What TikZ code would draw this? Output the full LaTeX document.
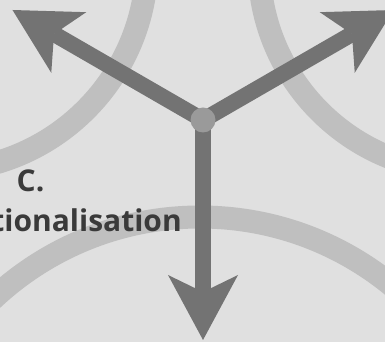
\documentclass[tikz,border=0pt]{standalone}
\usepackage{fontspec}
\setmainfont{Open Sans}
\usetikzlibrary{calc}
\definecolor{bg}{HTML}{E0E0E0}
\definecolor{arcgray}{HTML}{BFBFBF}
\definecolor{arrowgray}{HTML}{737373}
\definecolor{hubgray}{HTML}{9A9A9A}
\definecolor{textgray}{HTML}{3A3A3A}
\begin{document}
\begin{tikzpicture}[x=1pt,y=1pt,
  ring/.style={draw=arcgray,line width=23pt},
  shaft/.style={draw=arrowgray,line width=16pt},
  headfill/.style={fill=arrowgray},
  hubdot/.style={circle,fill=hubgray,minimum size=25pt,inner sep=0pt},
  lbl/.style={font=\bfseries\fontsize{30}{36}\selectfont,text=textgray,inner sep=0pt}]
\useasboundingbox (0,0) rectangle (385,342);
\fill[bg] (0,0) rectangle (385,342);
\begin{scope}
  \clip (0,0) rectangle (385,342);
  \draw[ring] (-62,380) circle (209);
  \draw[ring] (466,377) circle (207);
  \draw[ring] (200,-178) circle (303);
\end{scope}
\node[lbl,anchor=base] (c) at (30.5,150) {C.};
\node[lbl,anchor=base east] (fn) at (182,110) {ctionalisation};
\coordinate (ctr) at (203,222);
\foreach \ang/\nm in {150/L,30/R,270/D}{
  \coordinate (neck\nm) at ($(ctr)+(\ang:172)$);
  \draw[shaft] (ctr) -- (neck\nm);
  \begin{scope}[shift={(ctr)},rotate=\ang]
    \fill[headfill] (220,0) -- (155,35) -- (172,0) -- (155,-35) -- cycle;
  \end{scope}
}
\node[hubdot] (hub) at (ctr) {};
\end{tikzpicture}
\end{document}
